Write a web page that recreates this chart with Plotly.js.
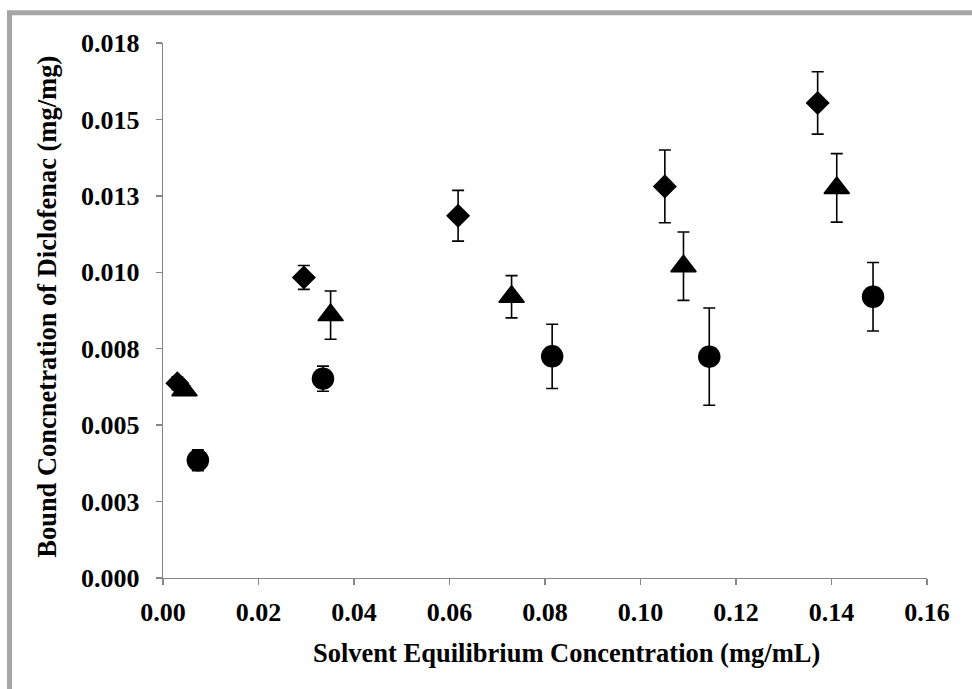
<!DOCTYPE html>
<html>
<head>
<meta charset="utf-8">
<script src="https://cdn.plot.ly/plotly-3.0.1.min.js"></script>
<style>
  html, body { margin: 0; padding: 0; background: #ffffff; }
  #chart { width: 972px; height: 689px; }
</style>
</head>
<body>
<div id="chart"></div>
<script>
// Diclofenac binding: bound concentration vs. solvent equilibrium concentration
// Three sorbent series, each with standard-deviation error bars.

const diamondX   = [0.0030, 0.0295, 0.0618, 0.1051, 0.1371];
const diamondY   = [0.00637, 0.00983, 0.01185, 0.01281, 0.01554];
const diamondErr = [0.00020, 0.00039, 0.00083, 0.00119, 0.00102];

const triangleX   = [0.0045, 0.0351, 0.0730, 0.1090, 0.1411];
const triangleY   = [0.00614, 0.00860, 0.00920, 0.01020, 0.01276];
const triangleErr = [0.00015, 0.00079, 0.00069, 0.00112, 0.00112];

const circleX   = [0.0073, 0.0335, 0.0815, 0.1144, 0.1487];
const circleY   = [0.00385, 0.00652, 0.00725, 0.00724, 0.00920];
const circleErr = [0.00034, 0.00041, 0.00105, 0.00159, 0.00112];

const yTickVals = [0, 0.0025, 0.005, 0.0075, 0.01, 0.0125, 0.015, 0.0175];
const yTickText = ['0.000', '0.003', '0.005', '0.008', '0.010', '0.013', '0.015', '0.018'];

const xTitle = 'Solvent Equilibrium Concentration (mg/mL)';
const yTitle = 'Bound Concnetration of Diclofenac (mg/mg)';

const serifBold = { family: 'Liberation Serif, "Times New Roman", serif', weight: 'bold', color: '#000000' };
const axisGrey = '#868686';

function series(x, y, err, symbol, size, edge) {
  return {
    type: 'scatter',
    mode: 'markers',
    x: x,
    y: y,
    error_y: { type: 'data', array: err, visible: true, color: '#000000', thickness: 1.6, width: 6 },
    marker: { symbol: symbol, size: size, color: '#000000', line: { width: edge, color: '#000000' } },
    showlegend: false,
    hoverinfo: 'x+y'
  };
}

const data = [
  series(diamondX, diamondY, diamondErr, 'diamond', 18.5, 0),
  series(triangleX, triangleY, triangleErr, 'triangle-up', 22, 1.5),
  series(circleX, circleY, circleErr, 'circle', 22.5, 0)
];

const layout = {
  width: 972,
  height: 689,
  margin: { l: 163, r: 45, t: 43, b: 111, pad: 0 },
  paper_bgcolor: '#ffffff',
  plot_bgcolor: '#ffffff',
  font: serifBold,
  xaxis: {
    range: [0, 0.16],
    dtick: 0.02,
    tick0: 0,
    tickformat: '.2f',
    showgrid: false,
    zeroline: false,
    showline: true,
    linecolor: axisGrey,
    linewidth: 1.4,
    ticks: 'outside',
    ticklen: 6,
    tickwidth: 1.4,
    tickcolor: axisGrey,
    tickfont: Object.assign({}, serifBold, { size: 26 }),
    ticklabelstandoff: 4
  },
  yaxis: {
    range: [0, 0.0175],
    tickmode: 'array',
    tickvals: yTickVals,
    ticktext: yTickText,
    showgrid: false,
    zeroline: false,
    showline: true,
    linecolor: axisGrey,
    linewidth: 1.4,
    ticks: 'outside',
    ticklen: 6,
    tickwidth: 1.4,
    tickcolor: axisGrey,
    tickfont: Object.assign({}, serifBold, { size: 26 }),
    ticklabelstandoff: 11
  },
  shapes: [
    {
      type: 'rect', xref: 'paper', yref: 'paper', layer: 'below',
      x0: -0.2009, x1: 1.08, y0: -0.24, y1: 1.0565,
      line: { color: '#a6a6a6', width: 5 },
      fillcolor: 'rgba(0,0,0,0)'
    }
  ],
  annotations: [
    {
      text: xTitle, xref: 'paper', yref: 'paper',
      x: 0.5284, y: -0.140, xanchor: 'center', yanchor: 'middle',
      showarrow: false, font: Object.assign({}, serifBold, { size: 26.5 })
    },
    {
      text: yTitle, xref: 'paper', yref: 'paper', textangle: -90,
      x: -0.1518, y: 0.507, xanchor: 'center', yanchor: 'middle',
      showarrow: false, font: Object.assign({}, serifBold, { size: 26.5 })
    }
  ]
};

Plotly.newPlot('chart', data, layout, { displayModeBar: false, staticPlot: true });
</script>
</body>
</html>
